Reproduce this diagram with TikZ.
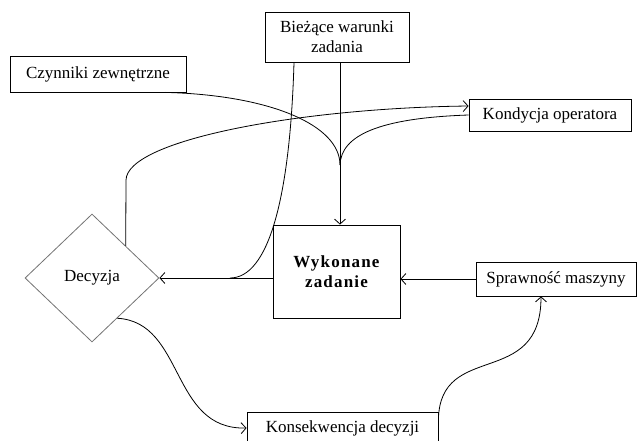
\documentclass[tikz,border=0pt]{standalone}
\usepackage{fontspec}
\setmainfont{Liberation Serif}
\newfontfamily\widebold[LetterSpace=7]{Liberation Serif}
\usetikzlibrary{arrows.meta, shapes.geometric, calc}
\tikzset{
  box/.style={draw, line width=0.8pt, inner sep=0pt, align=center, font=\fontsize{17}{20}\selectfont},
  decision/.style={draw=black!55, line width=0.8pt, diamond, inner sep=0pt, font=\fontsize{17}{20}\selectfont},
  link/.style={line width=0.8pt},
  conn/.style={link, -{Straight Barb[length=5pt,width=11pt]}}
}

\begin{document}
\begin{tikzpicture}[x=1pt, y=-1pt]
        \useasboundingbox (0,0) rectangle (637,441);
        % boxes
        \node[box, minimum width=144pt, minimum height=50pt] (bie) at (337,37) {Bieżące warunki\\zadania};
        \node[box, minimum width=176pt, minimum height=36pt] (czyn) at (98,74) {Czynniki zewnętrzne};
        \node[box, minimum width=162pt, minimum height=32pt] (kond) at (550,115) {Kondycja operatora};
        \node[box, minimum width=127pt, minimum height=93pt, font={\widebold\bfseries\fontsize{17}{20}\selectfont}] (wyk) at (336.5,271.5) {Wykonane\\zadanie};
        \node[box, minimum width=160pt, minimum height=34pt] (spr) at (556,279) {Sprawność maszyny};
        \node[box, minimum width=191pt, minimum height=32pt] (kons) at (342.5,428) {Konsekwencja decyzji};
        \node[decision, minimum width=134pt, minimum height=128pt] (dec) at (92,278) {Decyzja};

        \coordinate (join) at (340,165);
        \coordinate (merge) at (230,278);

        % inputs of the task
        \draw[conn] (bie.south -| join) -- (wyk.north -| join);
        \draw[link] ([xshift=67pt]czyn.south) .. controls (270,95) and (340,125) .. (join);
        \draw[link] (kond.west) .. controls (380,118) and (341,135) .. (join);

        % decision loop
        \draw[conn] (wyk.west |- dec.east) -- (dec.east);
        \draw[link] ([xshift=-43pt]bie.south) .. controls (290,200) and (268,278) .. (merge);
        \draw[conn] (dec.north east) -- (126,180) .. controls (127,140) and (300,108) .. ([yshift=9pt]kond.west);
        \draw[conn] (spr.west) -- (wyk.east |- spr.west);
        \draw[conn] ($(dec.south east)!0.25!(dec.south)$) .. controls (185,322) and (170,430) .. (kons.west);
        \draw[conn] ([yshift=-8pt]kons.north east) .. controls (440,340) and (541,390) .. ([xshift=-15pt]spr.south);
    \end{tikzpicture}
\end{document}
